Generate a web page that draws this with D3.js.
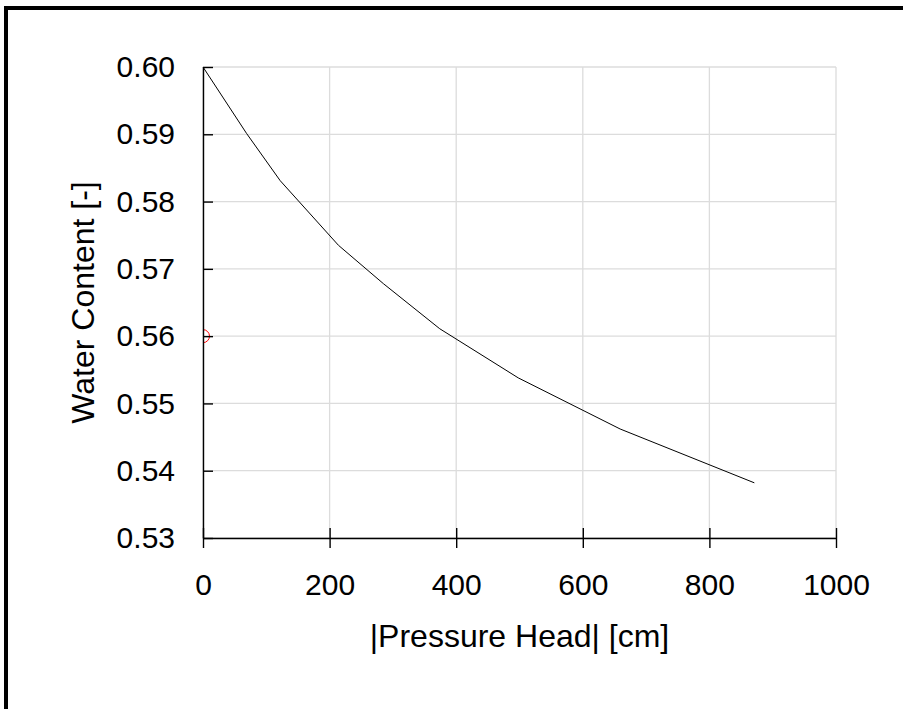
<!DOCTYPE html>
<html>
<head>
<meta charset="utf-8">
<script src="https://cdn.jsdelivr.net/npm/d3@7"></script>
<style>
  body { margin: 0; background: #fff; }
  text { font-family: "Liberation Sans", Arial, sans-serif; fill: #000; }
</style>
</head>
<body>
<div id="chart"></div>
<script>
// retention curve
const pressureHead = [0, 69, 122, 214, 285, 374, 498, 659, 871];
const waterContent = [0.600, 0.5901, 0.5831, 0.5735, 0.5678, 0.5611, 0.5538, 0.5462, 0.5382];
// single measured point
const obsHead = [0];
const obsWater = [0.56];

const xTicks = [0, 200, 400, 600, 800, 1000];
const yTicks = [0.53, 0.54, 0.55, 0.56, 0.57, 0.58, 0.59, 0.60];

const width = 903,
    height = 709,
    margin = ({ top: 67, right: 67, bottom: 171, left: 203 });

const svg = d3.select("#chart")
  .append("svg")
  .attr("width", width)
  .attr("height", height);

// frame (only top/left edges are in view)
svg.append("line").attr("x1", 4).attr("x2", width).attr("y1", 8).attr("y2", 8)
  .attr("stroke", "#000").attr("stroke-width", 4);
svg.append("line").attr("x1", 6).attr("x2", 6).attr("y1", 6).attr("y2", height)
  .attr("stroke", "#000").attr("stroke-width", 4);

let x = d3.scaleLinear()
    .domain([0, 1000])
    .range([margin.left, width - margin.right]);

let y = d3.scaleLinear()
    .domain([0.53, 0.60])
    .range([height - margin.bottom, margin.top]);

// grid
svg.append("g")
  .selectAll("line")
  .data(yTicks)
  .join("line")
    .attr("x1", x(0)).attr("x2", x(1000))
    .attr("y1", d => y(d)).attr("y2", d => y(d))
    .attr("stroke", "#dcdcdc").attr("stroke-width", 1.3);

svg.append("g")
  .selectAll("line")
  .data(xTicks)
  .join("line")
    .attr("x1", d => x(d)).attr("x2", d => x(d))
    .attr("y1", y(0.60)).attr("y2", y(0.53))
    .attr("stroke", "#dcdcdc").attr("stroke-width", 1.3);

// curve
let line = d3.line()
    .x(d => x(d[0]))
    .y(d => y(d[1]));

svg.append("path")
  .datum(d3.zip(pressureHead, waterContent))
  .attr("d", line)
  .attr("fill", "none")
  .attr("stroke", "#000")
  .attr("stroke-width", 1);

// observed point, clipped to plot area
svg.append("clipPath").attr("id", "plotclip")
  .append("rect")
  .attr("x", x(0)).attr("y", y(0.60))
  .attr("width", x(1000) - x(0)).attr("height", y(0.53) - y(0.60));

svg.append("g")
  .attr("clip-path", "url(#plotclip)")
  .selectAll("circle")
  .data(d3.zip(obsHead, obsWater))
  .join("circle")
    .attr("cx", d => x(d[0]))
    .attr("cy", d => y(d[1]))
    .attr("r", 6.5)
    .attr("fill", "none")
    .attr("stroke", "red")
    .attr("stroke-width", 1);

// axes
const yAxis = svg.append("g")
  .attr("transform", `translate(${x(0)},0)`)
  .call(d3.axisLeft(y)
    .tickValues(yTicks)
    .tickFormat(d3.format(".2f"))
    .tickSizeInner(10)
    .tickSizeOuter(0)
    .tickPadding(18));

yAxis.selectAll(".tick line").attr("x2", 10);

const xAxis = svg.append("g")
  .attr("transform", `translate(0,${y(0.53)})`)
  .call(d3.axisBottom(x)
    .tickValues(xTicks)
    .tickFormat(d3.format("d"))
    .tickSizeInner(10)
    .tickSizeOuter(0)
    .tickPadding(26));

xAxis.selectAll(".tick line").attr("y1", -10);

svg.selectAll(".domain, .tick line")
  .attr("stroke", "#000")
  .attr("stroke-width", 1.4);

svg.selectAll(".tick text")
  .attr("font-size", 30)
  .attr("font-family", "Liberation Sans, Arial, sans-serif")
  .attr("fill", "#000");

// axis titles
svg.append("text")
  .attr("text-anchor", "middle")
  .attr("x", (x(0) + x(1000)) / 2)
  .attr("y", 647)
  .attr("font-size", 32)
  .text("|Pressure Head| [cm]");

svg.append("text")
  .attr("text-anchor", "middle")
  .attr("transform", `translate(94,${(y(0.53) + y(0.60)) / 2}) rotate(-90)`)
  .attr("font-size", 32)
  .text("Water Content [-]");
</script>
</body>
</html>
